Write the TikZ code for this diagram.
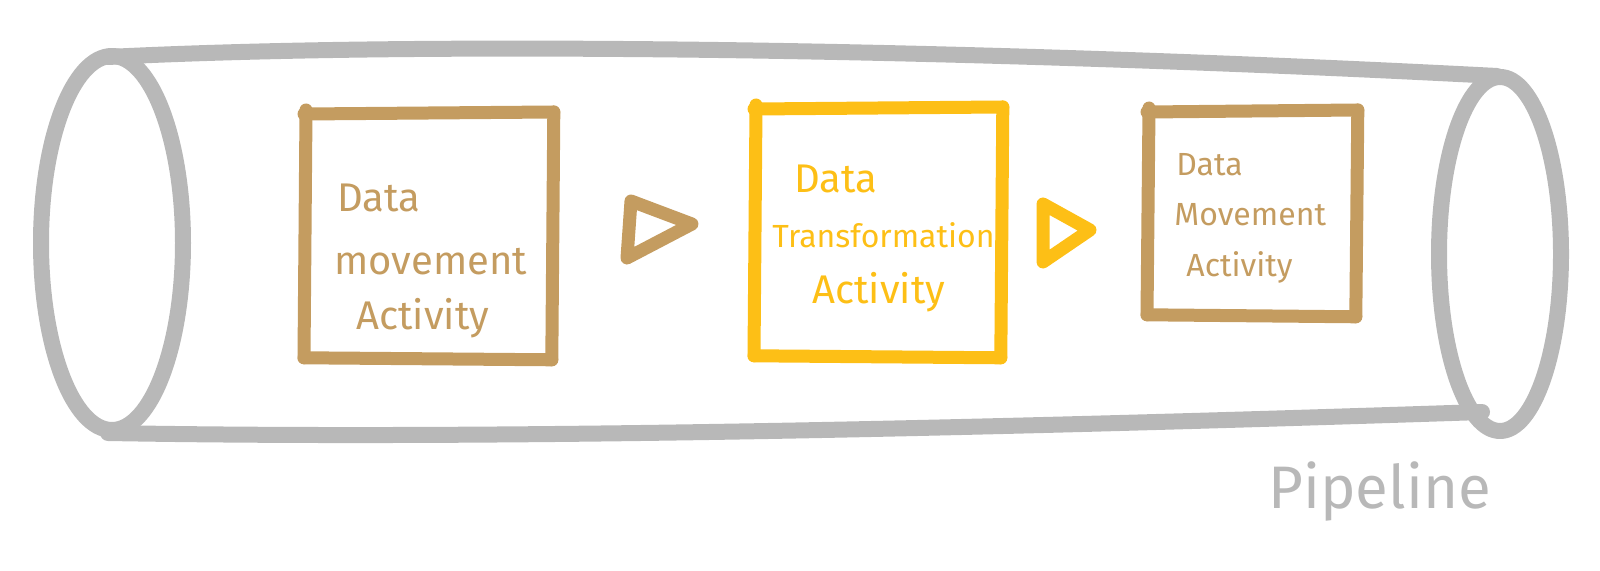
\documentclass[tikz,border=0pt]{standalone}
\usepackage{fontspec}
\setmainfont{Fira Sans}
\definecolor{tan}{HTML}{C49C60}
\definecolor{amber}{HTML}{FDBF16}
\definecolor{pipegray}{HTML}{B8B8B8}
\tikzset{
  sketch/.style={line width=6.5pt, line cap=round, line join=round},
  pipe/.style={sketch, draw=pipegray, line width=8pt},
  boxarea/.style={draw=none, inner sep=0pt, minimum width=#1},
  lbl/.style={anchor=base west, inner sep=0pt},
}
\begin{document}
\begin{tikzpicture}[x=0.5pt, y=-0.5pt]
\useasboundingbox (0,0) rectangle (1600,571);
% ---- pipe (cylinder) ----
\draw[pipe] (112,243) ellipse [x radius=71, y radius=187];
\draw[pipe] (1500,254) ellipse [x radius=61, y radius=177];
\draw[pipe] (108,57) .. controls (450,40) and (1000,50) .. (1497,76);
\draw[pipe] (108,433) .. controls (500,440) and (1000,428) .. (1482,412);
% ---- boxes ----
\node[boxarea=243pt/2, minimum height=243pt/2, anchor=north west] (b1) at (308,114) {};
\node[boxarea=242pt/2, minimum height=246pt/2, anchor=north west] (b2) at (758,109) {};
\node[boxarea=204pt/2, minimum height=202pt/2, anchor=north west] (b3) at (1151,112) {};
\foreach \b/\c in {b1/tan, b2/amber, b3/tan}{
  \draw[sketch, draw=\c] ([xshift=-2pt]\b.north west) -- ([xshift=1pt, yshift=1pt]\b.north east);
  \draw[sketch, draw=\c] ([xshift=1pt, yshift=1pt]\b.north east) -- ([yshift=-1pt]\b.south east);
  \draw[sketch, draw=\c] ([yshift=-1pt]\b.south east) -- ([xshift=-2pt]\b.south west);
  \draw[sketch, draw=\c] ([xshift=-2pt]\b.south west) -- ([xshift=-1pt, yshift=2pt]\b.north west);
}
% ---- labels ----
\begin{scope}[tan]
\node[lbl, font=\fontsize{20}{24}\selectfont] (t1a) at (337,212) {Data};
\node[lbl, font=\fontsize{20}{24}\selectfont] (t1b) at (334,275) {movement};
\node[lbl, font=\fontsize{20}{24}\selectfont] (t1c) at (356,330) {Activity};
\node[lbl, font=\fontsize{16}{20}\selectfont] (t3a) at (1176,176) {Data};
\node[lbl, font=\fontsize{16}{20}\selectfont] (t3b) at (1174,226) {Movement};
\node[lbl, font=\fontsize{16}{20}\selectfont] (t3c) at (1186,277) {Activity};
\end{scope}
\begin{scope}[amber]
\node[lbl, font=\fontsize{20}{24}\selectfont] (t2a) at (794,193) {Data};
\node[lbl, font=\fontsize{16}{24}\selectfont] (t2b) at (772,248) {Transformation};
\node[lbl, font=\fontsize{20}{24}\selectfont] (t2c) at (812,304) {Activity};
\end{scope}
\node[lbl, pipegray, font=\fontsize{30}{34}\selectfont] (pl) at (1268,508) {Pipeline};
% ---- arrows ----
\coordinate (a1a) at (631,201);
\coordinate (a1b) at (692,224);
\coordinate (a1c) at (627,258);
\draw[sketch, draw=tan] (a1a) -- (a1b) -- (a1c) -- cycle;
\coordinate (a2a) at (1043,204);
\coordinate (a2b) at (1090,230);
\coordinate (a2c) at (1043,262);
\draw[sketch, draw=amber] (a2a) -- (a2b) -- (a2c) -- cycle;
\end{tikzpicture}
\end{document}
